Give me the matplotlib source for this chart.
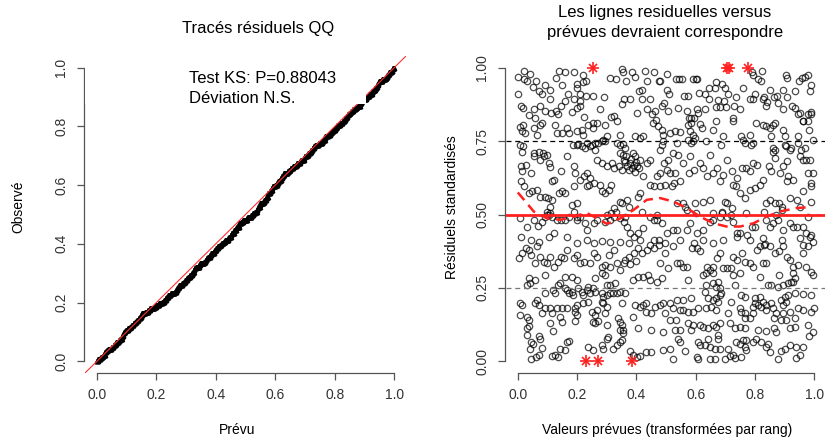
import matplotlib
matplotlib.use("Agg")
import matplotlib.pyplot as plt
import numpy as np

plt.rcParams['font.family'] = ['Liberation Sans', 'DejaVu Sans']

# residuals, as (rank-transformed prediction, scaled residual)
band_90_100 = [
    (0.00, 0.97), (0.02, 0.99), (0.04, 0.98), (0.02, 0.96), (0.03, 0.955), (0.06, 0.955), (0.05, 0.935),
    (0.00, 0.91), (0.07, 0.92), (0.09, 0.94), (0.08, 0.91), (0.11, 0.925), (0.13, 0.965), (0.14, 0.99),
    (0.16, 0.985), (0.15, 0.94), (0.17, 0.91), (0.19, 0.985), (0.20, 0.93), (0.20, 0.945), (0.22, 0.95),
    (0.22, 0.975), (0.23, 0.955), (0.21, 0.91), (0.23, 0.905), (0.255, 0.905), (0.29, 0.90), (0.31, 0.965),
    (0.33, 0.96), (0.35, 0.995), (0.355, 0.985), (0.365, 0.955), (0.385, 0.985), (0.395, 0.97), (0.41, 0.92),
    (0.42, 0.925), (0.43, 0.99), (0.435, 0.955), (0.46, 0.985), (0.475, 0.955), (0.48, 0.955), (0.505, 0.98),
    (0.505, 0.925), (0.51, 0.91), (0.535, 0.96), (0.545, 0.96), (0.555, 0.96), (0.56, 0.905), (0.575, 0.905),
    (0.59, 0.96), (0.60, 0.96), (0.605, 0.96), (0.61, 0.915), (0.63, 0.91), (0.645, 0.93), (0.665, 0.93),
    (0.67, 0.95), (0.69, 0.945), (0.70, 0.93), (0.71, 0.91), (0.735, 0.90), (0.76, 0.93), (0.79, 0.985),
    (0.795, 0.975), (0.81, 0.96), (0.825, 0.99), (0.82, 0.955), (0.80, 0.91), (0.83, 0.90), (0.85, 0.925),
    (0.865, 0.90), (0.875, 0.905), (0.895, 0.925), (0.905, 0.975), (0.91, 0.965), (0.91, 0.90), (0.935, 0.92),
    (0.95, 0.955), (0.96, 0.965), (0.97, 0.97), (0.98, 0.975), (0.985, 0.92), (0.99, 0.94),
]
band_80_90 = [
    (0.009, 0.869), (0.018, 0.863), (0.037, 0.840), (0.054, 0.858), (0.059, 0.828), (0.076, 0.871),
    (0.091, 0.852), (0.110, 0.894), (0.112, 0.846), (0.130, 0.852), (0.136, 0.841), (0.127, 0.806),
    (0.144, 0.869), (0.160, 0.886), (0.183, 0.849), (0.189, 0.892), (0.200, 0.863), (0.211, 0.886),
    (0.211, 0.871), (0.224, 0.831), (0.278, 0.858), (0.315, 0.833), (0.323, 0.837), (0.351, 0.877),
    (0.359, 0.892), (0.377, 0.892), (0.402, 0.846), (0.419, 0.892), (0.435, 0.858), (0.447, 0.892),
    (0.452, 0.841), (0.464, 0.852), (0.466, 0.823), (0.486, 0.869), (0.492, 0.880), (0.508, 0.852),
    (0.542, 0.863), (0.570, 0.854), (0.576, 0.829), (0.584, 0.829), (0.593, 0.828), (0.604, 0.858),
    (0.609, 0.846), (0.632, 0.858), (0.645, 0.892), (0.669, 0.866), (0.677, 0.890), (0.682, 0.867),
    (0.696, 0.886), (0.703, 0.867), (0.725, 0.829), (0.730, 0.871), (0.750, 0.858), (0.783, 0.892),
    (0.795, 0.892), (0.826, 0.892), (0.839, 0.869), (0.842, 0.883), (0.879, 0.880), (0.896, 0.858),
    (0.924, 0.871), (0.935, 0.863), (0.946, 0.844), (0.952, 0.846), (0.980, 0.841), (0.988, 0.841),
    (0.963, 0.818), (0.991, 0.849),
    (0.019, 0.805), (0.075, 0.805), (0.081, 0.811), (0.238, 0.805), (0.255, 0.811), (0.266, 0.811),
    (0.294, 0.805), (0.333, 0.817), (0.457, 0.811), (0.474, 0.800), (0.575, 0.805), (0.586, 0.811),
    (0.614, 0.809), (0.670, 0.817), (0.726, 0.817), (0.805, 0.811), (0.827, 0.805), (0.839, 0.800),
    (0.861, 0.805), (0.867, 0.811), (0.962, 0.817), (0.979, 0.817),
]
band_70_80 = [
    (0.008, 0.797), (0.013, 0.783), (0.025, 0.777), (0.053, 0.794), (0.064, 0.771), (0.131, 0.777),
    (0.148, 0.777), (0.165, 0.794), (0.171, 0.777), (0.199, 0.783), (0.215, 0.788), (0.221, 0.771),
    (0.255, 0.794), (0.300, 0.766), (0.345, 0.771), (0.395, 0.766), (0.412, 0.760), (0.423, 0.766),
    (0.485, 0.788), (0.490, 0.771), (0.008, 0.737), (0.019, 0.734), (0.013, 0.714), (0.053, 0.709),
    (0.070, 0.714), (0.086, 0.709), (0.098, 0.703), (0.187, 0.737), (0.199, 0.737), (0.204, 0.741),
    (0.215, 0.732), (0.227, 0.726), (0.232, 0.743), (0.244, 0.732), (0.249, 0.737), (0.260, 0.743),
    (0.272, 0.743), (0.283, 0.749), (0.289, 0.754), (0.294, 0.749), (0.260, 0.720), (0.333, 0.743),
    (0.345, 0.737), (0.356, 0.741), (0.361, 0.726), (0.345, 0.709), (0.356, 0.703), (0.389, 0.709),
    (0.479, 0.720), (0.485, 0.737), (0.490, 0.749),
    (0.513, 0.777), (0.530, 0.783), (0.547, 0.780), (0.620, 0.794), (0.580, 0.783), (0.592, 0.771),
    (0.597, 0.760), (0.536, 0.743), (0.575, 0.754), (0.586, 0.743), (0.592, 0.749), (0.636, 0.749),
    (0.659, 0.788), (0.693, 0.768), (0.687, 0.737), (0.754, 0.766), (0.760, 0.754), (0.766, 0.743),
    (0.782, 0.771), (0.794, 0.743), (0.788, 0.737), (0.850, 0.794), (0.855, 0.766), (0.895, 0.788),
    (0.900, 0.766), (0.945, 0.766), (0.984, 0.788), (0.945, 0.743), (0.996, 0.754), (0.524, 0.709),
    (0.541, 0.703), (0.580, 0.700), (0.647, 0.703), (0.861, 0.726), (0.861, 0.714), (0.867, 0.720),
    (0.900, 0.737), (0.906, 0.732), (0.923, 0.726), (0.917, 0.720), (0.956, 0.720), (0.968, 0.726),
]
band_60_70 = [
    (0.009, 0.664), (0.015, 0.649), (0.029, 0.667), (0.043, 0.641), (0.054, 0.698), (0.076, 0.687),
    (0.088, 0.698), (0.104, 0.675), (0.110, 0.661), (0.116, 0.613), (0.121, 0.618), (0.144, 0.647),
    (0.166, 0.698), (0.189, 0.664), (0.194, 0.641), (0.211, 0.618), (0.222, 0.630), (0.233, 0.641),
    (0.245, 0.624), (0.267, 0.687), (0.284, 0.675), (0.301, 0.664), (0.318, 0.675), (0.323, 0.658),
    (0.340, 0.664), (0.357, 0.687), (0.366, 0.698), (0.377, 0.675), (0.383, 0.689), (0.391, 0.670),
    (0.396, 0.698), (0.402, 0.664), (0.413, 0.687), (0.422, 0.630), (0.435, 0.675), (0.447, 0.687),
    (0.471, 0.630), (0.480, 0.641), (0.492, 0.675), (0.503, 0.653), (0.508, 0.687), (0.514, 0.641),
    (0.531, 0.641), (0.548, 0.613), (0.559, 0.675), (0.579, 0.641), (0.593, 0.653), (0.615, 0.675),
    (0.626, 0.658), (0.637, 0.630), (0.660, 0.641), (0.671, 0.658), (0.682, 0.613), (0.694, 0.636),
    (0.705, 0.687), (0.722, 0.647), (0.738, 0.624), (0.755, 0.658), (0.770, 0.658), (0.783, 0.647),
    (0.795, 0.675), (0.806, 0.670), (0.828, 0.616), (0.848, 0.664), (0.856, 0.647), (0.868, 0.692),
    (0.884, 0.641), (0.896, 0.664), (0.907, 0.681), (0.912, 0.630), (0.929, 0.618), (0.952, 0.698),
    (0.963, 0.687), (0.974, 0.687), (0.985, 0.685), (0.980, 0.641), (0.997, 0.641), (0.991, 0.607),
    (0.36, 0.68), (0.37, 0.665), (0.385, 0.66), (0.395, 0.645), (0.40, 0.68), (0.41, 0.66),
    (0.35, 0.65), (0.375, 0.65),
]
band_50_60 = [
    (0.037, 0.573), (0.048, 0.579), (0.063, 0.584), (0.076, 0.561), (0.093, 0.561), (0.102, 0.556),
    (0.110, 0.527), (0.116, 0.550), (0.099, 0.510), (0.138, 0.573), (0.149, 0.579), (0.160, 0.573),
    (0.183, 0.533), (0.189, 0.596), (0.200, 0.539), (0.233, 0.596), (0.239, 0.601), (0.256, 0.607),
    (0.278, 0.601), (0.284, 0.579), (0.295, 0.573), (0.306, 0.584), (0.314, 0.601), (0.323, 0.522),
    (0.346, 0.544), (0.351, 0.539), (0.368, 0.550), (0.374, 0.527), (0.407, 0.561), (0.413, 0.573),
    (0.447, 0.601), (0.458, 0.596), (0.480, 0.596), (0.497, 0.601), (0.520, 0.596), (0.527, 0.607),
    (0.536, 0.539), (0.559, 0.539), (0.565, 0.527), (0.598, 0.539), (0.626, 0.544), (0.649, 0.550),
    (0.660, 0.505), (0.688, 0.505), (0.699, 0.544), (0.705, 0.539), (0.722, 0.522), (0.727, 0.601),
    (0.736, 0.596), (0.750, 0.573), (0.767, 0.556), (0.783, 0.584), (0.800, 0.590), (0.817, 0.601),
    (0.839, 0.539), (0.851, 0.550), (0.868, 0.539), (0.882, 0.539), (0.890, 0.527), (0.907, 0.613),
    (0.918, 0.556), (0.941, 0.550), (0.952, 0.527), (0.963, 0.579), (0.991, 0.544), (0.991, 0.596),
    (0.020, 0.596), (0.009, 0.613), (0.10, 0.50), (0.11, 0.505), (0.19, 0.51), (0.20, 0.49),
    (0.30, 0.50), (0.315, 0.505), (0.33, 0.51), (0.36, 0.49), (0.42, 0.51), (0.47, 0.50),
    (0.57, 0.515), (0.60, 0.505), (0.69, 0.51), (0.72, 0.50), (0.77, 0.505), (0.83, 0.51),
    (0.87, 0.50), (0.89, 0.515), (0.98, 0.49),
]
band_40_50 = [
    (0.006, 0.487), (0.031, 0.459), (0.054, 0.482), (0.067, 0.461), (0.082, 0.476), (0.093, 0.493),
    (0.104, 0.499), (0.116, 0.493), (0.132, 0.482), (0.144, 0.482), (0.160, 0.482), (0.172, 0.493),
    (0.200, 0.482), (0.211, 0.493), (0.228, 0.470), (0.233, 0.448), (0.256, 0.470), (0.267, 0.482),
    (0.295, 0.476), (0.312, 0.482), (0.323, 0.493), (0.346, 0.487), (0.357, 0.476), (0.368, 0.459),
    (0.379, 0.436), (0.391, 0.425), (0.407, 0.436), (0.424, 0.453), (0.447, 0.493), (0.458, 0.482),
    (0.469, 0.482), (0.486, 0.470), (0.503, 0.436), (0.525, 0.448), (0.536, 0.448), (0.548, 0.413),
    (0.570, 0.448), (0.581, 0.470), (0.604, 0.436), (0.626, 0.448), (0.649, 0.476), (0.660, 0.482),
    (0.682, 0.493), (0.705, 0.493), (0.727, 0.476), (0.738, 0.425), (0.750, 0.436), (0.772, 0.431),
    (0.789, 0.459), (0.800, 0.459), (0.839, 0.482), (0.851, 0.459), (0.862, 0.470), (0.879, 0.482),
    (0.896, 0.448), (0.918, 0.470), (0.929, 0.459), (0.941, 0.459), (0.963, 0.459), (0.974, 0.436),
    (0.985, 0.425), (0.991, 0.431), (0.997, 0.408), (0.009, 0.423), (0.043, 0.413), (0.071, 0.408),
    (0.104, 0.425), (0.121, 0.436), (0.166, 0.425), (0.200, 0.402), (0.233, 0.413), (0.256, 0.402),
    (0.284, 0.411), (0.312, 0.408), (0.346, 0.408), (0.374, 0.402), (0.413, 0.413), (0.458, 0.413),
    (0.475, 0.413), (0.497, 0.402), (0.593, 0.402), (0.626, 0.413), (0.660, 0.402), (0.694, 0.413),
    (0.738, 0.436), (0.783, 0.413), (0.828, 0.419), (0.890, 0.413), (0.952, 0.419),
]
band_30_40 = [
    (0.003, 0.351), (0.015, 0.368), (0.029, 0.385), (0.037, 0.379), (0.043, 0.362), (0.059, 0.334),
    (0.065, 0.391), (0.076, 0.356), (0.088, 0.339), (0.097, 0.334), (0.110, 0.356), (0.121, 0.322),
    (0.135, 0.339), (0.144, 0.356), (0.155, 0.351), (0.166, 0.379), (0.189, 0.351), (0.200, 0.362),
    (0.211, 0.334), (0.222, 0.339), (0.245, 0.334), (0.256, 0.368), (0.267, 0.356), (0.284, 0.322),
    (0.295, 0.328), (0.306, 0.362), (0.312, 0.322), (0.323, 0.379), (0.334, 0.334), (0.346, 0.311),
    (0.357, 0.334), (0.374, 0.356), (0.391, 0.368), (0.407, 0.385), (0.419, 0.368), (0.435, 0.379),
    (0.447, 0.396), (0.458, 0.385), (0.475, 0.396), (0.480, 0.334), (0.497, 0.368), (0.508, 0.317),
    (0.525, 0.391), (0.536, 0.334), (0.548, 0.334), (0.559, 0.322), (0.570, 0.322), (0.587, 0.385),
    (0.604, 0.385), (0.615, 0.374), (0.637, 0.322), (0.649, 0.311), (0.660, 0.322), (0.671, 0.351),
    (0.682, 0.368), (0.694, 0.317), (0.707, 0.317), (0.718, 0.317), (0.727, 0.356), (0.738, 0.345),
    (0.755, 0.368), (0.767, 0.339), (0.783, 0.334), (0.795, 0.322), (0.806, 0.379), (0.817, 0.391),
    (0.828, 0.334), (0.839, 0.334), (0.851, 0.391), (0.868, 0.368), (0.882, 0.374), (0.896, 0.391),
    (0.907, 0.356), (0.918, 0.345), (0.929, 0.322), (0.946, 0.328), (0.963, 0.368), (0.974, 0.322),
    (0.991, 0.305), (0.980, 0.391), (0.963, 0.396), (0.360, 0.345), (0.380, 0.330), (0.400, 0.340),
    (0.830, 0.395), (0.835, 0.400),
]
band_15_30 = [
    (0.036, 0.282), (0.042, 0.265), (0.058, 0.276), (0.030, 0.259), (0.092, 0.293), (0.159, 0.288),
    (0.182, 0.288), (0.199, 0.276), (0.260, 0.282), (0.283, 0.299), (0.294, 0.293), (0.389, 0.276),
    (0.406, 0.288), (0.423, 0.288), (0.440, 0.293), (0.445, 0.276), (0.468, 0.271), (0.485, 0.282),
    (0.137, 0.259), (0.143, 0.265), (0.159, 0.248), (0.165, 0.242), (0.171, 0.231), (0.182, 0.237),
    (0.187, 0.225), (0.204, 0.248), (0.215, 0.237), (0.221, 0.225), (0.232, 0.242), (0.238, 0.254),
    (0.244, 0.231), (0.255, 0.248), (0.260, 0.237), (0.283, 0.231), (0.289, 0.220), (0.300, 0.225),
    (0.311, 0.231), (0.322, 0.231), (0.333, 0.231), (0.345, 0.237), (0.361, 0.233), (0.300, 0.259),
    (0.311, 0.259), (0.328, 0.265), (0.092, 0.231), (0.120, 0.242), (0.126, 0.231), (0.008, 0.197),
    (0.013, 0.191), (0.058, 0.197), (0.070, 0.191), (0.064, 0.208), (0.092, 0.180), (0.109, 0.183),
    (0.131, 0.180), (0.148, 0.180), (0.165, 0.180), (0.193, 0.180), (0.199, 0.191), (0.221, 0.197),
    (0.238, 0.203), (0.283, 0.203), (0.289, 0.197), (0.300, 0.186), (0.266, 0.174), (0.350, 0.197),
    (0.412, 0.186), (0.423, 0.191), (0.434, 0.197), (0.462, 0.186), (0.479, 0.191), (0.490, 0.197),
    (0.395, 0.191), (0.008, 0.157), (0.030, 0.152), (0.081, 0.163), (0.115, 0.163), (0.143, 0.152),
    (0.193, 0.168), (0.199, 0.157), (0.249, 0.168), (0.260, 0.157), (0.294, 0.163), (0.389, 0.152),
    (0.434, 0.168), (0.451, 0.163), (0.496, 0.163),
    (0.625, 0.293), (0.636, 0.299), (0.659, 0.299), (0.726, 0.293), (0.749, 0.299), (0.816, 0.288),
    (0.883, 0.293), (0.928, 0.299), (0.934, 0.282), (0.928, 0.271), (0.996, 0.293), (0.575, 0.276),
    (0.636, 0.259), (0.659, 0.265), (0.676, 0.271), (0.670, 0.254), (0.681, 0.248), (0.732, 0.259),
    (0.844, 0.259), (0.855, 0.259), (0.878, 0.254), (0.895, 0.259), (0.912, 0.265), (0.923, 0.271),
    (0.513, 0.197), (0.536, 0.208), (0.558, 0.208), (0.586, 0.214), (0.631, 0.237), (0.642, 0.214),
    (0.659, 0.208), (0.670, 0.214), (0.681, 0.225), (0.687, 0.231), (0.676, 0.203), (0.721, 0.203),
    (0.754, 0.225), (0.766, 0.220), (0.799, 0.214), (0.816, 0.220), (0.827, 0.203), (0.838, 0.191),
    (0.810, 0.191), (0.799, 0.197), (0.794, 0.186), (0.822, 0.186), (0.855, 0.197), (0.889, 0.208),
    (0.900, 0.220), (0.912, 0.225), (0.934, 0.231), (0.962, 0.229), (0.990, 0.225), (0.906, 0.203),
    (0.895, 0.191), (0.999, 0.180), (0.524, 0.180), (0.547, 0.174), (0.558, 0.174), (0.575, 0.168),
    (0.592, 0.168), (0.609, 0.180), (0.636, 0.180), (0.653, 0.186), (0.670, 0.174), (0.710, 0.163),
    (0.749, 0.180), (0.754, 0.168), (0.766, 0.163), (0.794, 0.163), (0.839, 0.174), (0.861, 0.180),
    (0.872, 0.163), (0.895, 0.163), (0.917, 0.168), (0.945, 0.180), (0.962, 0.174), (0.990, 0.168),
]
band_00_15 = [
    (0.039, 0.140), (0.036, 0.121), (0.030, 0.114), (0.109, 0.129), (0.120, 0.102), (0.148, 0.134),
    (0.193, 0.137), (0.253, 0.134), (0.260, 0.129), (0.272, 0.137), (0.300, 0.123), (0.339, 0.146),
    (0.345, 0.134), (0.350, 0.123), (0.345, 0.106), (0.356, 0.106), (0.406, 0.112), (0.448, 0.106),
    (0.490, 0.098), (0.030, 0.089), (0.070, 0.086), (0.075, 0.075), (0.044, 0.066), (0.051, 0.060),
    (0.042, 0.043), (0.081, 0.046), (0.070, 0.023), (0.062, 0.015), (0.044, 0.009), (0.114, 0.018),
    (0.126, 0.020), (0.137, 0.015), (0.143, 0.043), (0.159, 0.038), (0.165, 0.066), (0.171, 0.068),
    (0.238, 0.049), (0.255, 0.038), (0.283, 0.057), (0.289, 0.043), (0.300, 0.077), (0.305, 0.083),
    (0.322, 0.043), (0.333, 0.055), (0.345, 0.066), (0.350, 0.072), (0.356, 0.095), (0.378, 0.034),
    (0.387, 0.023), (0.401, 0.015), (0.412, 0.018), (0.434, 0.030), (0.451, 0.030), (0.490, 0.038),
    (0.513, 0.140), (0.535, 0.140), (0.530, 0.106), (0.546, 0.106), (0.575, 0.132), (0.591, 0.125),
    (0.586, 0.106), (0.614, 0.123), (0.625, 0.117), (0.642, 0.112), (0.659, 0.125), (0.670, 0.117),
    (0.681, 0.129), (0.715, 0.132), (0.732, 0.112), (0.751, 0.117), (0.765, 0.114), (0.765, 0.146),
    (0.782, 0.146), (0.810, 0.106), (0.838, 0.102), (0.866, 0.112), (0.872, 0.100), (0.866, 0.148),
    (0.889, 0.140), (0.906, 0.140), (0.917, 0.112), (0.934, 0.117), (0.934, 0.146), (0.979, 0.125),
    (0.996, 0.098), (0.984, 0.086), (0.541, 0.075), (0.546, 0.066), (0.513, 0.043), (0.563, 0.034),
    (0.608, 0.066), (0.614, 0.057), (0.631, 0.055), (0.647, 0.049), (0.664, 0.043), (0.681, 0.043),
    (0.642, 0.077), (0.676, 0.077), (0.676, 0.091), (0.709, 0.043), (0.737, 0.066), (0.749, 0.060),
    (0.760, 0.072), (0.771, 0.072), (0.765, 0.049), (0.771, 0.038), (0.794, 0.066), (0.805, 0.075),
    (0.822, 0.066), (0.838, 0.049), (0.844, 0.060), (0.850, 0.032), (0.889, 0.034), (0.900, 0.041),
    (0.917, 0.057), (0.939, 0.049), (0.962, 0.049), (0.524, 0.009), (0.603, 0.015), (0.608, 0.009),
    (0.647, 0.009), (0.664, 0.009), (0.698, 0.009), (0.715, 0.018), (0.726, 0.023), (0.732, 0.011),
    (0.754, 0.015), (0.878, 0.009), (0.939, 0.011), (0.951, 0.020),
]

# simulation outliers (red stars)
outlier_x = [0.252, 0.707, 0.714, 0.778, 0.230, 0.270, 0.385]
outlier_y = [1.0, 1.0, 1.0, 1.0, 0.0, 0.0, 0.0]

# red dashed median spline
smooth_x = [0.0, 0.054, 0.099, 0.144, 0.189, 0.233, 0.267, 0.301, 0.346, 0.391, 0.435, 0.48,
            0.525, 0.57, 0.615, 0.66, 0.705, 0.75, 0.795, 0.84, 0.884, 0.94, 0.985]
smooth_y = [0.575, 0.51, 0.487, 0.482, 0.493, 0.505, 0.487, 0.468, 0.487, 0.516, 0.55, 0.556,
            0.544, 0.522, 0.493, 0.47, 0.459, 0.459, 0.47, 0.493, 0.51, 0.522, 0.525]

ks_text = "Test KS: P=0.88043"
dev_text = "Déviation N.S."

tick_col = '#333333'
spine_col = '#555555'

resid = np.array(band_90_100 + band_80_90 + band_70_80 + band_60_70 + band_50_60
                 + band_40_50 + band_30_40 + band_15_30 + band_00_15)
resid_x, resid_y = resid[:, 0], resid[:, 1]

W, H = 825, 445
fig = plt.figure(figsize=(W / 100, H / 100), dpi=100)
ax1 = fig.add_axes([85 / W, 1 - 373 / H, 321 / W, 317 / H])
ax2 = fig.add_axes([506 / W, 1 - 373 / H, 320 / W, 317 / H])


def r_axes(ax, yticks, ylabels):
    ax.set_xlim(-0.04, 1.04)
    ax.set_ylim(-0.04, 1.04)
    for s in ['top', 'right']:
        ax.spines[s].set_visible(False)
    for s in ['left', 'bottom']:
        ax.spines[s].set_color(spine_col)
        ax.spines[s].set_linewidth(0.9)
        ax.spines[s].set_bounds(0, 1)
    ax.spines['left'].set_position(('outward', 1))
    ax.set_xticks([0, 0.2, 0.4, 0.6, 0.8, 1.0])
    ax.set_xticklabels(['0.0', '0.2', '0.4', '0.6', '0.8', '1.0'])
    ax.set_yticks(yticks)
    ax.set_yticklabels(ylabels, rotation=90, va='center')
    ax.tick_params(length=5, width=0.9, color=spine_col, labelsize=10,
                   labelcolor=tick_col, pad=6)
    ax.set_facecolor('none')


# ---- left: QQ plot (sorted residuals against uniform quantiles)
all_res = np.sort(np.concatenate([resid_y, outlier_y]))
n = len(all_res)
expected = (np.arange(1, n + 1) - 0.5) / n
ax1.plot(expected, all_res, linestyle='none', marker='^', ms=3.2, mfc='none',
         mec='black', mew=0.9, zorder=2)
ax1.plot([-0.04, 1.04], [-0.04, 1.04], color='#ff3030', lw=0.8, zorder=3)
ax1.add_patch(plt.Rectangle((-0.04, 0.875), 0.945, 0.2, facecolor='white',
                            edgecolor='none', zorder=4))
ax1.text(0.31, 0.962, ks_text, fontsize=12, va='center', ha='left', zorder=5)
ax1.text(0.31, 0.894, dev_text, fontsize=12, va='center', ha='left', zorder=5)
r_axes(ax1, [0, 0.2, 0.4, 0.6, 0.8, 1.0], ['0.0', '0.2', '0.4', '0.6', '0.8', '1.0'])

# ---- right: residuals vs predicted
ax2.plot(resid_x, resid_y, linestyle='none', marker='o', ms=4.6, mfc='none',
         mec='black', mew=0.9, alpha=0.7, zorder=2)
ax2.axhline(0.75, color='black', lw=0.9, ls=(0, (4, 3)), zorder=3)
ax2.axhline(0.25, color='#777777', lw=0.9, ls=(0, (4, 3)), zorder=3)
ax2.axhline(0.5, color='#ff2020', lw=2, zorder=3)
ax2.plot(smooth_x, smooth_y, color='#ff2020', lw=1.8, ls=(0, (4, 2.5)), zorder=3)
ax2.plot(outlier_x, outlier_y, linestyle='none', marker='+', ms=8, mew=1.2,
         color='#ff2020', zorder=4, clip_on=False)
ax2.plot(outlier_x, outlier_y, linestyle='none', marker='x', ms=6, mew=1.2,
         color='#ff2020', zorder=4, clip_on=False)
r_axes(ax2, [0, 0.25, 0.5, 0.75, 1.0], ['0.00', '0.25', '0.50', '0.75', '1.00'])

# titles and axis labels
fig.text(258 / W, 1 - 29 / H, "Tracés résiduels QQ", fontsize=12, ha='center', va='center')
fig.text(665 / W, 1 - 13 / H, "Les lignes residuelles versus", fontsize=12, ha='center', va='center')
fig.text(665 / W, 1 - 33 / H, "prévues devraient correspondre", fontsize=12, ha='center', va='center')
fig.text(237 / W, 1 - 430 / H, "Prévu", fontsize=10, ha='center', va='center')
fig.text(667 / W, 1 - 430 / H, "Valeurs prévues (transformées par rang)", fontsize=10,
         ha='center', va='center')
fig.text(18 / W, 1 - 207 / H, "Observé", fontsize=10, rotation=90, ha='center', va='center')
fig.text(452 / W, 1 - 207 / H, "Résiduels standardisés", fontsize=10, rotation=90,
         ha='center', va='center')

fig.savefig('out.png', dpi=100)
